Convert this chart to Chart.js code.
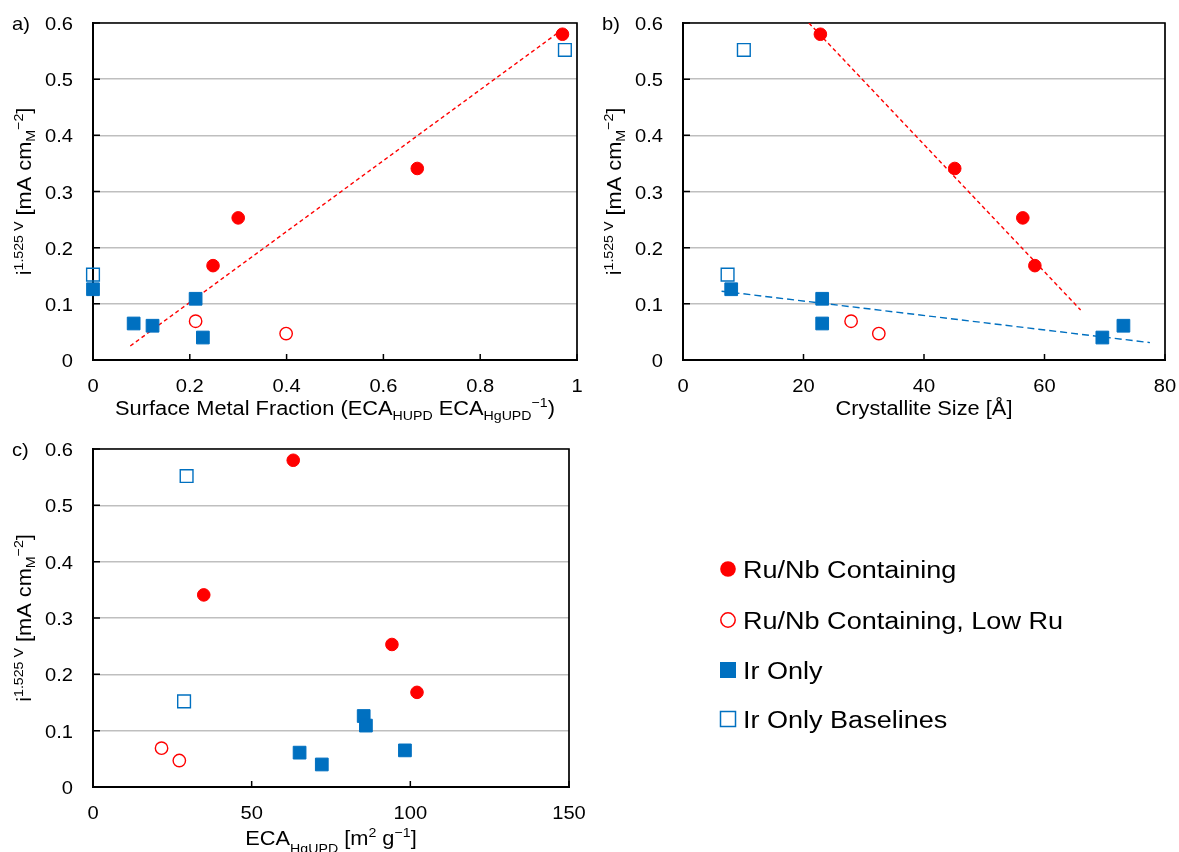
<!DOCTYPE html>
<html>
<head>
<meta charset="utf-8">
<script src="https://cdn.jsdelivr.net/npm/chart.js@4.4.1/dist/chart.umd.min.js"></script>
<style>
  html, body { margin: 0; padding: 0; background: #fff; }
  #wrap { position: relative; width: 1179px; height: 852px; overflow: hidden; }
  #wrap canvas { position: absolute; }
</style>
</head>
<body>
<div id="wrap">
  <canvas id="chartA" width="590" height="430" style="left:0;top:0"></canvas>
  <canvas id="chartB" width="589" height="430" style="left:590px;top:0"></canvas>
  <canvas id="chartC" width="590" height="422" style="left:0;top:430px"></canvas>
  <canvas id="legend" width="589" height="422" style="left:590px;top:430px"></canvas>
</div>
<script>
// ── series ──────────────────────────────────────────────
const SERIES = ['Ru/Nb Containing', 'Ru/Nb Containing, Low Ru', 'Ir Only', 'Ir Only Baselines'];

// i(1.525 V) per sample, mA cm_M^-2
const ruNbAct  = [0.580, 0.341, 0.253, 0.168];
const lowRuAct = [0.069, 0.047];
const irAct    = [0.126, 0.109, 0.065, 0.061, 0.040];
const baseAct  = [0.152, 0.552];

// surface metal fraction (ECA_HUPD / ECA_HgUPD)
const ruNbSMF  = [0.970, 0.670, 0.300, 0.248];
const lowRuSMF = [0.212, 0.399];
const irSMF    = [0.000, 0.212, 0.084, 0.123, 0.227];
const baseSMF  = [0.000, 0.975];

// crystallite size, Å
const ruNbSize  = [22.8, 45.1, 56.4, 58.4];
const lowRuSize = [27.9, 32.5];
const irSize    = [8.0, 23.1, 23.1, 73.1, 69.6];
const baseSize  = [7.4, 10.1];

// ECA_HgUPD, m2 g-1
const ruNbECA  = [63.1, 34.9, 94.2, 102.1];
const lowRuECA = [21.6, 27.2];
const irECA    = [85.3, 86.0, 98.3, 65.1, 72.1];
const baseECA  = [28.7, 29.5];

// linear trend lines (end points)
const trendSmfX    = [0.077, 0.974];
const trendSmfY    = [0.025, 0.591];
const trendSizeRuX = [20.9, 66.0];
const trendSizeRuY = [0.600, 0.089];
const trendSizeIrX = [6.4, 77.5];
const trendSizeIrY = [0.1225, 0.031];

// axis ticks
const actTicks  = [0, 0.1, 0.2, 0.3, 0.4, 0.5, 0.6];
const smfTicks  = [0, 0.2, 0.4, 0.6, 0.8, 1];
const sizeTicks = [0, 20, 40, 60, 80];
const ecaTicks  = [0, 50, 100, 150];

// ── styling ─────────────────────────────────────────────
const FONT = '"Liberation Sans", Arial, Helvetica, sans-serif';
const RED = '#FF0000';
const BLUE = '#0070C0';
const GRID = '#BFBFBF';
const TICK_STRETCH = 1.06;   // tick labels are set a little wide
const TITLE_STRETCH = 1.09;

// rich text parts: [text, size, baseline shift]
const Y_TITLE = [['i', 20, 0], ['1.525 V', 13, -8], [' [mA cm', 20, 0], ['M', 13, 4], ['\u22122', 13, -8], [']', 20, 0]];
const SMF_TITLE = [['Surface Metal Fraction (ECA', 20, 0], ['HUPD', 13, 5], [' ECA', 20, 0], ['HgUPD', 13, 5], ['\u22121', 13, -8], [')', 20, 0]];
const SIZE_TITLE = [['Crystallite Size [\u00C5]', 20, 0]];
const ECA_TITLE = [['ECA', 20, 0], ['HgUPD', 13, 8], [' [m', 20, 0], ['2', 13, -8], [' g', 20, 0], ['\u22121', 13, -8], [']', 20, 0]];

const zip = (xs, ys) => xs.map((x, i) => ({ x, y: ys[i] }));

function richWidth(ctx, parts) {
    let w = 0;
    for (const [t, size] of parts) {
        ctx.font = `${size}px ${FONT}`;
        w += ctx.measureText(t).width;
    }
    return w;
}

// draws text parts with sub/superscripts; align: 'left' | 'center' | 'right'
function drawRich(ctx, parts, x, y, align, rotate, stretch) {
    ctx.save();
    ctx.translate(x, y);
    if (rotate) ctx.rotate(-Math.PI / 2);
    ctx.scale(stretch, 1);
    ctx.fillStyle = '#000';
    ctx.textBaseline = 'alphabetic';
    ctx.textAlign = 'left';
    const w = richWidth(ctx, parts);
    let cx = align === 'center' ? -w / 2 : align === 'right' ? -w : 0;
    for (const [t, size, shift] of parts) {
        ctx.font = `${size}px ${FONT}`;
        ctx.fillText(t, cx, shift);
        cx += ctx.measureText(t).width;
    }
    ctx.restore();
}

const fmt = v => String(v);

// box, inward tick marks, tick labels and titles
const framePlugin = {
    id: 'frame',
    beforeDatasetsDraw(chart, args, opts) {
        const { ctx, chartArea: a, scales: { x, y } } = chart;
        ctx.save();
        ctx.strokeStyle = '#000';
        ctx.lineWidth = 1.7;
        ctx.beginPath();
        ctx.moveTo(a.left, a.top);
        ctx.lineTo(a.right, a.top);
        ctx.lineTo(a.right, a.bottom);
        ctx.stroke();
        ctx.lineWidth = 1.5;
        ctx.beginPath();
        x.ticks.forEach(t => {
            const px = x.getPixelForValue(t.value);
            ctx.moveTo(px, a.bottom);
            ctx.lineTo(px, a.bottom - 6);
        });
        y.ticks.forEach(t => {
            const py = y.getPixelForValue(t.value);
            ctx.moveTo(a.left, py);
            ctx.lineTo(a.left + 7, py);
        });
        ctx.stroke();
        ctx.restore();
    },
    afterDraw(chart, args, opts) {
        const { ctx, chartArea: a, scales: { x, y } } = chart;
        y.ticks.forEach(t => {
            drawRich(ctx, [[fmt(t.value), 19, 0]], a.left - 20, y.getPixelForValue(t.value) + 7, 'right', false, TICK_STRETCH);
        });
        x.ticks.forEach(t => {
            drawRich(ctx, [[fmt(t.value), 19, 0]], x.getPixelForValue(t.value), a.bottom + opts.tickGap, 'center', false, TICK_STRETCH);
        });
        drawRich(ctx, [[opts.tag, 19, 0]], 12, a.top + 7, 'left', false, TICK_STRETCH);
        drawRich(ctx, Y_TITLE, 31, (a.top + a.bottom) / 2, 'center', true, TITLE_STRETCH);
        drawRich(ctx, opts.xTitle, (a.left + a.right) / 2, a.bottom + opts.titleGap, 'center', false, TITLE_STRETCH);
    }
};

function pointSets(xs) {
    return [
        { label: SERIES[0], data: zip(xs[0], ruNbAct), pointStyle: 'circle', pointRadius: 6.3,
          backgroundColor: RED, borderColor: RED, borderWidth: 1 },
        { label: SERIES[1], data: zip(xs[1], lowRuAct), pointStyle: 'circle', pointRadius: 6.2,
          backgroundColor: 'rgba(0,0,0,0)', borderColor: RED, borderWidth: 1.4 },
        { label: SERIES[2], data: zip(xs[2], irAct), pointStyle: 'rect', pointRadius: 9,
          backgroundColor: BLUE, borderColor: BLUE, borderWidth: 1 },
        { label: SERIES[3], data: zip(xs[3], baseAct), pointStyle: 'rect', pointRadius: 9,
          backgroundColor: 'rgba(0,0,0,0)', borderColor: BLUE, borderWidth: 1.4 },
    ].map(d => ({ ...d, clip: false, showLine: false, order: 1 }));
}

function trendSet(xs, ys, color, dash) {
    return { data: zip(xs, ys), showLine: true, pointRadius: 0, borderColor: color,
             borderWidth: 1.4, borderDash: dash, fill: false, order: 2 };
}

function makePanel(id, p) {
    new Chart(document.getElementById(id), {
        type: 'scatter',
        data: { datasets: [...p.trends, ...pointSets(p.xs)] },
        options: {
            responsive: false,
            animation: false,
            events: [],
            layout: { padding: { left: 0, top: p.top, right: p.right, bottom: 0 } },
            plugins: {
                legend: { display: false },
                tooltip: { enabled: false },
                frame: { tag: p.tag, xTitle: p.xTitle, tickGap: p.tickGap, titleGap: p.titleGap },
            },
            scales: {
                x: {
                    type: 'linear', min: p.xTicks[0], max: p.xTicks[p.xTicks.length - 1],
                    afterBuildTicks: s => { s.ticks = p.xTicks.map(v => ({ value: v })); },
                    afterFit: s => { s.height = p.xAxisH; },
                    grid: { display: false, drawTicks: false },
                    border: { display: true, color: '#000', width: 2 },
                    ticks: { display: false },
                },
                y: {
                    type: 'linear', min: 0, max: 0.6,
                    afterBuildTicks: s => { s.ticks = actTicks.map(v => ({ value: v })); },
                    afterFit: s => { s.width = 93; },
                    grid: { color: GRID, lineWidth: 1.5, drawTicks: false },
                    border: { display: true, color: '#000', width: 2 },
                    ticks: { display: false },
                },
            },
        },
        plugins: [framePlugin],
    });
}

makePanel('chartA', {
    tag: 'a)', top: 23, right: 13, xAxisH: 70, xTicks: smfTicks, xTitle: SMF_TITLE,
    tickGap: 32, titleGap: 55,
    xs: [ruNbSMF, lowRuSMF, irSMF, baseSMF],
    trends: [trendSet(trendSmfX, trendSmfY, RED, [4, 3])],
});

makePanel('chartB', {
    tag: 'b)', top: 23, right: 14, xAxisH: 70, xTicks: sizeTicks, xTitle: SIZE_TITLE,
    tickGap: 32, titleGap: 55,
    xs: [ruNbSize, lowRuSize, irSize, baseSize],
    trends: [trendSet(trendSizeRuX, trendSizeRuY, RED, [4, 3]),
             trendSet(trendSizeIrX, trendSizeIrY, BLUE, [7, 4])],
});

makePanel('chartC', {
    tag: 'c)', top: 19, right: 21, xAxisH: 65, xTicks: ecaTicks, xTitle: ECA_TITLE,
    tickGap: 32, titleGap: 58,
    xs: [ruNbECA, lowRuECA, irECA, baseECA],
    trends: [],
});

// ── legend ──────────────────────────────────────────────
(function drawLegend() {
    const ctx = document.getElementById('legend').getContext('2d');
    const mx = 138, tx = 153;
    const rows = [139, 190, 240, 289];
    SERIES.forEach((name, i) => {
        const cy = rows[i];
        ctx.save();
        ctx.lineWidth = 1.5;
        if (i < 2) {
            ctx.beginPath();
            ctx.arc(mx, cy, i === 0 ? 7.8 : 7.2, 0, Math.PI * 2);
            if (i === 0) { ctx.fillStyle = RED; ctx.fill(); }
            else { ctx.strokeStyle = RED; ctx.stroke(); }
        } else if (i === 2) {
            ctx.fillStyle = BLUE;
            ctx.fillRect(mx - 8, cy - 8, 16, 16);
        } else {
            ctx.strokeStyle = BLUE;
            ctx.strokeRect(mx - 7.5, cy - 7.5, 15, 15);
        }
        ctx.restore();
        drawRich(ctx, [[name, 23.5, 0]], tx, cy + 8.5, 'left', false, 1.15);
    });
})();
</script>
</body>
</html>
